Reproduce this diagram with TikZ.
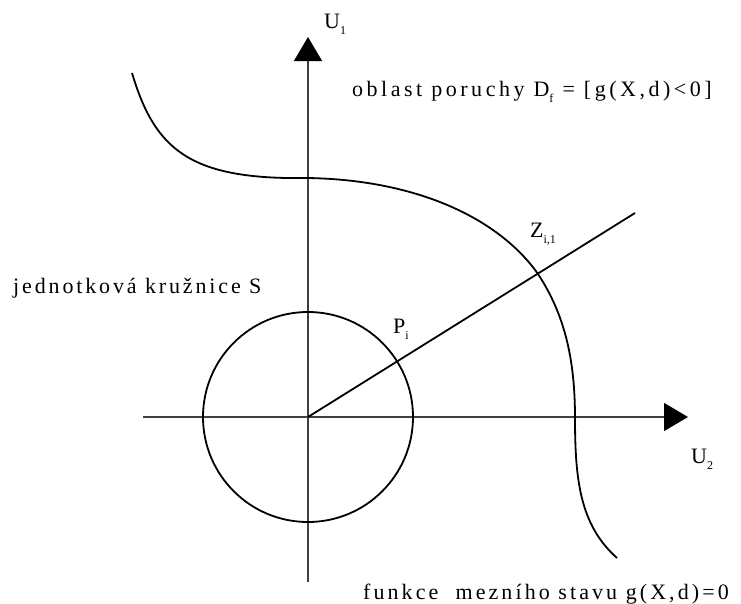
\documentclass[tikz,border=0pt]{standalone}
\usepackage{fontspec}
\setmainfont{Liberation Serif}
\usetikzlibrary{arrows.meta}
\newcommand{\lsub}[1]{\raisebox{-6pt}{\fontsize{12}{12}\selectfont #1}}
\begin{document}
\begin{tikzpicture}[x=1pt,y=-1pt,
  txt/.style={font=\fontsize{22}{22}\selectfont\addfontfeature{LetterSpace=#1}, inner sep=0pt, anchor=base west},
  lbl/.style={font=\fontsize{22}{22}\selectfont, inner sep=0pt, anchor=base west},
  axis/.style={line width=1.3pt, draw=black!75, -{Triangle[width=28pt,length=24pt,color=black]}},
  curveline/.style={line width=1.8pt, draw=black}]
\useasboundingbox (0,0) rectangle (741,603);
\coordinate (O) at (308,417);
\coordinate (yb) at (308,582);
\coordinate (yt) at (308,37);
\coordinate (xl) at (143,417);
\coordinate (xr) at (688,417);
\coordinate (R) at (635,213);
\draw[axis] (yb) -- (yt);
\draw[axis] (xl) -- (xr);
\draw[curveline] (O) circle[radius=105];
\draw[curveline] (O) -- (R);
\draw[curveline] (132,73) .. controls (155,150) and (190,180) .. (308,178)
  .. controls (420,180) and (500,220) .. (538,274)
  .. controls (565,315) and (575,360) .. (575,418)
  .. controls (575,480) and (580,525) .. (617,558);
\node[lbl] (u1) at (324,28) {U\lsub{1}};
\node[lbl] (u2) at (691,463) {U\lsub{2}};
\node[lbl] (pi) at (393,333) {P\lsub{i}};
\node[lbl] (zi) at (530,237) {Z\lsub{i,1}};
\node[txt=16] (obl) at (352,96) {oblast poruchy D\lsub{f} = [g(X,d)<0]};
\node[txt=13] (kru) at (13,293) {jednotková kružnice S};
\node[txt=14] (fun) at (363,599) {funkce\ \ mezního stavu g(X,d)=0};
\end{tikzpicture}
\end{document}
